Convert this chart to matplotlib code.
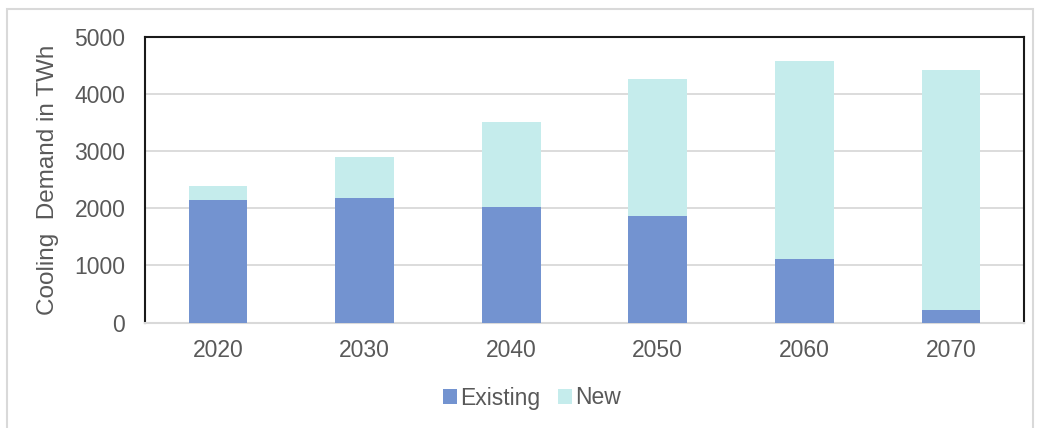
import matplotlib
matplotlib.use("Agg")
import matplotlib.pyplot as plt
from matplotlib.patches import Rectangle

years = ["2020", "2030", "2040", "2050", "2060", "2070"]
existing = [2140, 2170, 2025, 1860, 1115, 215]
new = [250, 720, 1485, 2400, 3465, 4195]
yticks = [0, 1000, 2000, 3000, 4000, 5000]

c_exist = "#7393D0"
c_new = "#C5ECEC"
txt = "#595959"

plt.rcParams['font.family'] = ['Liberation Sans', 'DejaVu Sans']

fig = plt.figure(figsize=(10.4, 4.28), dpi=100)
fig.patches.append(Rectangle((7/1040, -0.01), (1033-7)/1040, 1 - 9/428 + 0.01,
                             transform=fig.transFigure, fill=False,
                             edgecolor="#D9D9D9", linewidth=1.5))
ax = fig.add_axes([144.7/1040, 1-322.5/428, (1024.3-144.7)/1040, (322.5-36.5)/428])

x = list(range(len(years)))
ax.bar(x, existing, width=0.4, color=c_exist, label="Existing", zorder=3)
ax.bar(x, new, width=0.4, bottom=existing, color=c_new, label="New", zorder=3)

ax.set_xlim(-0.5, len(years) - 0.5)
ax.set_ylim(0, 5000)
ax.set_yticks(yticks)
ax.set_xticks(x)
ax.set_xticklabels(years)
ax.yaxis.grid(True, color="#D9D9D9", linewidth=1.3, zorder=0)
ax.set_axisbelow(True)
ax.tick_params(axis='both', length=0, labelsize=16.5, colors=txt)
ax.tick_params(axis='y', pad=14)
ax.tick_params(axis='x', pad=12)
for s in ['top', 'left', 'right']:
    ax.spines[s].set_color("#1a1a1a")
    ax.spines[s].set_linewidth(1.5)
ax.spines['bottom'].set_color("#D9D9D9")
ax.spines['bottom'].set_linewidth(1.5)

ax.set_ylabel("Cooling  Demand in TWh", fontsize=17.5, color=txt, labelpad=11)

leg = fig.legend(loc="center", bbox_to_anchor=(532/1040, 1 - 398/428), ncol=2, frameon=False,
                 fontsize=16.5, handlelength=0.6, handleheight=0.6, handletextpad=0.17,
                 columnspacing=0.75)
for t in leg.get_texts():
    t.set_color(txt)

fig.savefig("out.png", dpi=100)
